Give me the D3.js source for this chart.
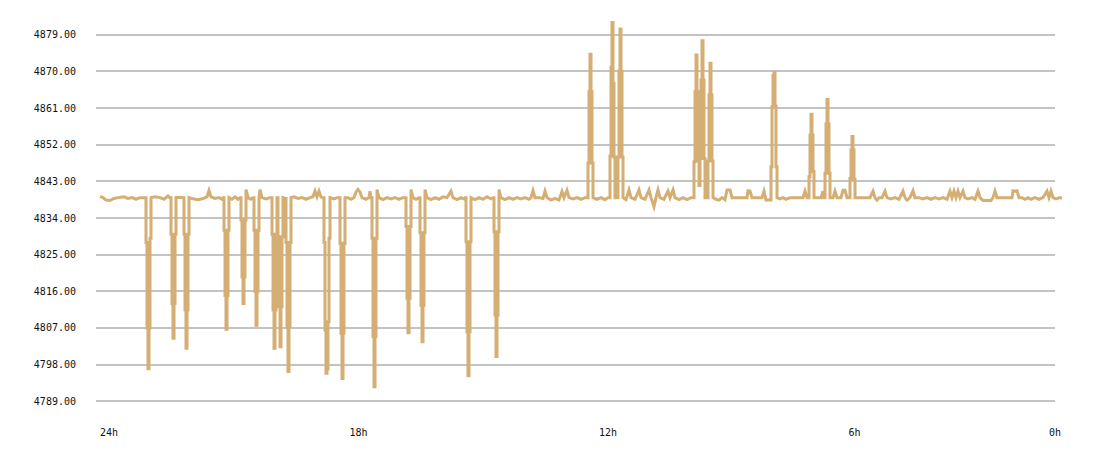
<!DOCTYPE html>
<html>
<head>
<meta charset="utf-8">
<script src="https://cdn.jsdelivr.net/npm/d3@7"></script>
<style>
  html, body { margin: 0; padding: 0; background: #ffffff; }
  svg { display: block; }
  text { font-family: "DejaVu Sans Mono", "Liberation Mono", monospace; font-size: 10px; fill: #111; }
</style>
</head>
<body>
<svg id="chart" width="1100" height="458"></svg>
<script>
// ---- data ----
const yTicks = [4789, 4798, 4807, 4816, 4825, 4834, 4843, 4852, 4861, 4870, 4879];
const xTickHours = [24, 18, 12, 6, 0];
const xTickLabels = ["24h", "18h", "12h", "6h", "0h"];

// baseline samples [sampleIndex, price]
const baseline = [
  [0,4839.3],[3,4839],[6,4838.4],[10,4838.3],[14,4838.8],[18,4839],[24,4839.2],[28,4838.8],[32,4839],[36,4838.6],[40,4839],[44,4839],
  [51,4839],[55,4839.2],[60,4839],[64,4838.6],[68,4839.4],[70,4839],
  [76,4839],[80,4839.1],[83,4839],
  [89,4839],[93,4838.7],[98,4838.5],[103,4838.8],[107,4839.2],[109,4840.8],[111,4839.2],[115,4838.8],[119,4839],[122,4838.6],[123,4839],
  [129,4839],[132,4838.6],[135,4839.2],[138,4838.6],[140,4839],
  [146,4841],[148,4839],[151,4838.6],[153,4839],
  [159,4839],[160,4841],[162,4839],[166,4838.7],[170,4839],[171,4839],
  [177,4839],[183,4839],[185,4838.8],
  [191,4839],[194,4839.2],[198,4838.8],[202,4839],[206,4838.6],[210,4839],[213,4839.2],[215,4840.6],[217,4839.2],[219,4840.6],[221,4839.2],[223,4839],
  [230,4839],[234,4838.7],[237,4839],[239,4839],
  [245,4839],[248,4839],[251,4838.6],[254,4839],[256,4840.4],[258,4841],[260,4840.4],[262,4839],[266,4838.6],[269,4839],[270,4840.6],[271,4839],
  [277,4841],[279,4839],[283,4838.5],[287,4839],[291,4838.7],[295,4839],[299,4838.6],[303,4839],[305,4839],
  [311,4841],[313,4839],[316,4838.6],[319,4839],
  [325,4841],[327,4839],[331,4838.5],[335,4839],[339,4838.6],[343,4839.2],[347,4839],[351,4840.6],[353,4839],[357,4838.5],[361,4839],[364,4838.7],[365,4839],
  [371,4839],[375,4838.5],[379,4839],[383,4838.6],[387,4839.2],[391,4838.7],[393,4839],
  [399,4841],[401,4839],[405,4838.5],[409,4839],[413,4838.6],[417,4839],[421,4838.7],[425,4839],[429,4838.6],[431,4839],[433,4840.7],[435,4839],
  [439,4839],[443,4838.8],[445,4840.6],[447,4839],[451,4838.4],[455,4838.8],[459,4838.4],[462,4840.5],[464,4839],[467,4840.8],[469,4839],
  [473,4838.7],[477,4839],[481,4838.6],[485,4839],[487,4839],
  [493,4839],[497,4838.6],[501,4839],[505,4838.5],[508,4839],[509,4839],
  [515,4839],[516,4839],
  [523,4839],[526,4838.5],[529,4840.9],[531,4839],[535,4838.6],[539,4840.9],[541,4839],[545,4838.6],[549,4840.9],[551,4839],[554,4836.8],[556,4839],
  [558,4840.9],[560,4839],[564,4838.6],[568,4840.6],[570,4839],[573,4840.9],[575,4839],[579,4838.5],[583,4839],[587,4838.5],[591,4839],[593,4839],
  [605,4839],[606,4839],
  [613,4839],[616,4838.6],[619,4838.4],[622,4839],[625,4838.5],[627,4840.9],[630,4840.9],[632,4839],[636,4839],[640,4839],[644,4839],[647,4839],
  [648,4840.7],[650,4840.6],[652,4839],[656,4839],[660,4839],[662,4839],[664,4840.6],[666,4838.4],[670,4838.4],
  [677,4839],[680,4838.7],[683,4839],[686,4838.6],[690,4839],[695,4839],[700,4839],[703,4839],[705,4840.6],[707,4839],[708,4839],
  [714,4839],[718,4839],[721,4839],[723,4840.6],[724,4839],
  [730,4839],[733,4839],[735,4840.6],[737,4839],[741,4839],[743,4840.8],[745,4840.8],[747,4839],[749,4839],
  [755,4839],[760,4839],[765,4839],[770,4839],[773,4840.6],[775,4839],[777,4838.4],[779,4839],[782,4839],[785,4840.6],[787,4839],
  [791,4838.7],[795,4839],[799,4838.6],[803,4840.6],[805,4839],[807,4838.4],[810,4839],[813,4840.7],[815,4839],[819,4839],[823,4838.7],
  [827,4839],[831,4838.6],[835,4839],[839,4838.7],[843,4839],[847,4838.6],[850,4840.6],[852,4839],[854,4840.6],[856,4839],[858,4840.6],
  [860,4839],[863,4840.6],[865,4839],[868,4838.7],[872,4839],[875,4838.6],[878,4840.6],[880,4839],[883,4838.3],[887,4838.3],[891,4838.3],
  [893,4839],[895,4840.6],[897,4839],[900,4839],[904,4839],[908,4839],[912,4839],[913,4840.7],[915,4840.6],[917,4840.7],[919,4839],
  [922,4839],[925,4838.6],[928,4839],[931,4838.6],[935,4839],[939,4838.6],[943,4839],[947,4840.6],[949,4839],[951,4840.6],[953,4839],
  [956,4838.7],[960,4839],[962,4838.8]
];

// sharp drops: [startIndex, consecutive prices]
const drops = [
  [46,  [4828, 4807, 4797, 4807, 4829]],
  [71,  [4830, 4813, 4804.5, 4813, 4830]],
  [84,  [4830, 4811.5, 4802, 4811.5, 4830]],
  [124, [4831, 4815, 4806.7, 4815, 4831]],
  [141, [4833.5, 4819.5, 4813, 4819.5, 4833.5]],
  [154, [4831, 4816, 4807.7, 4816, 4831]],
  [172, [4830, 4811.4, 4802, 4811.4, 4830]],
  [178, [4829.4, 4812.2, 4802.4, 4812.2, 4829.4]],
  [186, [4828, 4807.3, 4796.3, 4807.3, 4828]],
  [224, [4828, 4806.5, 4795.9, 4797, 4808.5, 4829]],
  [240, [4827.8, 4805.7, 4794.6, 4805.7, 4827.8]],
  [272, [4829, 4804.9, 4792.6, 4804.9, 4829]],
  [306, [4831.9, 4814.3, 4805.8, 4814.3, 4831.9]],
  [320, [4830.4, 4812.6, 4803.6, 4812.6, 4830.4]],
  [366, [4828.2, 4806.1, 4795.3, 4806.1, 4828.2]],
  [394, [4830.6, 4810.2, 4800, 4810.2, 4830.6]]
];

// sharp rises: [startIndex, consecutive prices]
const rises = [
  [488, [4847.5, 4865, 4874.2, 4865, 4847.5]],
  [510, [4849.2, 4871, 4882, 4867, 4849]],
  [518, [4849, 4870, 4880.4, 4870, 4849]],
  [594, [4847.8, 4865, 4874, 4865, 4848, 4842, 4848.6, 4867.9, 4877.5, 4867.9, 4848.6]],
  [608, [4848, 4864.2, 4872, 4864.2, 4848]],
  [671, [4846.6, 4861.3, 4869, 4869.8, 4861.5, 4846.6]],
  [709, [4844.1, 4854.4, 4859.5, 4854.4, 4845.4]],
  [725, [4845, 4857.1, 4863.1, 4857.1, 4845]],
  [750, [4843.7, 4850.7, 4854, 4850.7, 4843.5]]
];

// ---- build series ----
const events = drops.concat(rises);
const inEvent = i => events.some(([s, vals]) => i >= s - 0.5 && i <= s + vals.length - 0.5);
let series = baseline.filter(([i]) => !inEvent(i)).map(([i, v]) => ({i, v, jump: false}));
events.forEach(([s, vals]) => vals.forEach((v, k) => series.push({i: s + k, v, jump: true})));
series.sort((a, b) => a.i - b.i);
// the first sample after a jump also lands with a vertical move
series.forEach((d, k) => { if (k > 0 && series[k - 1].jump) d.land = true; });

// path vertices: gentle moves drawn straight, sharp moves drawn as verticals
const vertices = [];
series.forEach((d, k) => {
  if (k > 0 && (d.jump || d.land)) vertices.push({i: d.i, v: series[k - 1].v});
  vertices.push(d);
});

// ---- scales ----
const svg = d3.select("#chart");
const gridLeft = 96, gridRight = 1055;
const y = d3.scaleLinear().domain([4789, 4879]).range([401.3, 34.7]);
const x = d3.scaleLinear().domain([0, 962]).range([100, 1062]);
const hx = d3.scaleLinear().domain([24, 0]).range([100, 1098]);

// grid
svg.append("g").selectAll("line").data(yTicks).join("line")
  .attr("x1", gridLeft).attr("x2", gridRight)
  .attr("y1", d => Math.round(y(d))).attr("y2", d => Math.round(y(d)))
  .attr("stroke", "#c3c3c3").attr("stroke-width", 2)
  .attr("shape-rendering", "crispEdges");

// y labels
svg.append("g").selectAll("text").data(yTicks).join("text")
  .attr("x", 76).attr("y", d => y(d)).attr("dy", "0.35em")
  .attr("text-anchor", "end")
  .text(d => d.toFixed(2));

// x labels
svg.append("g").selectAll("text").data(xTickHours).join("text")
  .attr("x", d => Math.min(hx(d), 1049)).attr("y", 436)
  .attr("text-anchor", "start")
  .text((d, k) => xTickLabels[k]);

// line
const line = d3.line().x(d => x(d.i)).y(d => y(d.v));
svg.append("path").datum(vertices)
  .attr("d", line)
  .attr("fill", "none")
  .attr("stroke", "#d4ae73")
  .attr("stroke-width", 3)
  .attr("stroke-linejoin", "miter");
</script>
</body>
</html>
